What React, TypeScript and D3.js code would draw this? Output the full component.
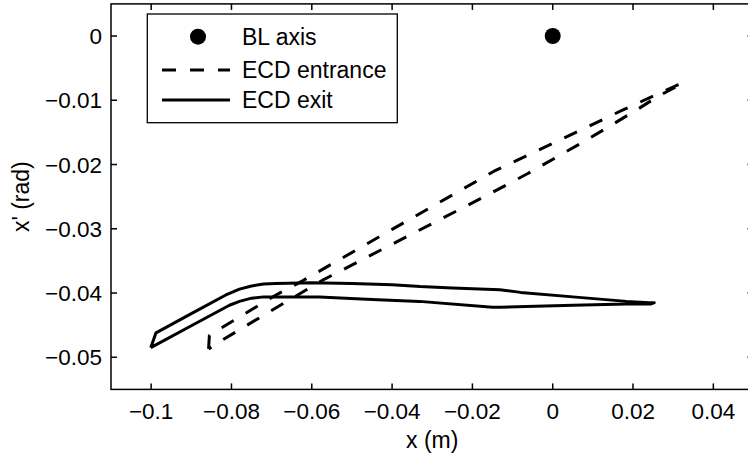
import React, { useRef, useEffect } from 'react';
import * as d3 from 'd3';

const width = 748;
const height = 455;

// ECD exit loop (solid): upper edge left->right, then lower edge back
const exitX = [-0.1001, -0.0988, -0.0900, -0.0814, -0.0780, -0.0750, -0.0720, -0.0690, -0.0600, -0.0500, -0.0400,
  -0.0330, -0.0250, -0.0132, -0.0080, 0.0050, 0.0184, 0.0240, 0.0253,
  0.0245, 0.0184, 0.0051, -0.0132, -0.0150, -0.0332, -0.0450, -0.0581, -0.0680, -0.0720, -0.0750, -0.0780, -0.0805, -0.0900, -0.1001];
const exitY = [-0.0485, -0.0462, -0.0432, -0.0403, -0.0394, -0.0389, -0.0386, -0.0385, -0.0384, -0.0385, -0.0387,
  -0.0390, -0.0392, -0.0395, -0.0399, -0.0406, -0.0413, -0.0415, -0.0415,
  -0.0417, -0.0417, -0.0419, -0.0422, -0.0422, -0.0413, -0.0410, -0.0406, -0.0406, -0.0406, -0.0408, -0.0413, -0.0419, -0.0451, -0.0485];

// ECD entrance loop (dashed)
const entX = [-0.0857, -0.0855, -0.0835, -0.0689, -0.0623, -0.0400, -0.0145, 0.0000, 0.0175, 0.0308, 0.0325,
  0.0262, 0.0209, 0.0084, -0.0062, -0.0170, -0.0400, -0.0573, -0.0697, -0.0822, -0.0857];
const entY = [-0.0487, -0.0466, -0.0458, -0.0403, -0.0381, -0.0301, -0.0210, -0.0167, -0.0115, -0.0077, -0.0073,
  -0.0094, -0.0115, -0.0162, -0.0214, -0.0250, -0.0324, -0.0380, -0.0426, -0.0473, -0.0487];

const blX = [0];
const blY = [0];

const xTicks = [-0.1, -0.08, -0.06, -0.04, -0.02, 0, 0.02, 0.04];
const yTicks = [0, -0.01, -0.02, -0.03, -0.04, -0.05];
const legendLabels = ['BL axis', 'ECD entrance', 'ECD exit'];

const font = '"Liberation Sans", Arial, Helvetica, sans-serif';

export default function App() {
  const svgRef = useRef(null);
  useEffect(() => {
    const svg = d3.select(svgRef.current);
    svg.selectAll('*').remove();

    const x = d3.scaleLinear().domain([-0.11, 0.05]).range([111, 753.5]);
    const y = d3.scaleLinear().domain([-0.055, 0.005]).range([389.4, 3.9]);
    const fmt = d3.format('~g');
    const [x0, x1] = x.range();
    const [y0, y1] = y.range();
    const tick = 6;

    // curves
    const line = d3.line<number>().x((d, i) => x(d)).y((d, i) => 0);
    const path = (xs: number[], ys: number[]) =>
      d3.line<number>().x(i => x(xs[i])).y(i => y(ys[i]))(d3.range(xs.length));

    svg.append('path')
      .attr('d', path(entX, entY))
      .attr('fill', 'none')
      .attr('stroke', 'black')
      .attr('stroke-width', 3)
      .attr('stroke-dasharray', '14,14')
      .attr('stroke-linejoin', 'round');

    svg.append('path')
      .attr('d', path(exitX, exitY))
      .attr('fill', 'none')
      .attr('stroke', 'black')
      .attr('stroke-width', 3)
      .attr('stroke-linejoin', 'round');

    svg.selectAll('circle.bl')
      .data(blX)
      .join('circle')
      .attr('class', 'bl')
      .attr('cx', d => x(d))
      .attr('cy', (d, i) => y(blY[i]))
      .attr('r', 8)
      .attr('fill', 'black');

    // axes box
    const ax = svg.append('g').attr('stroke', 'black').attr('stroke-width', 1.5);
    ax.append('rect')
      .attr('x', x0).attr('y', y1)
      .attr('width', x1 - x0).attr('height', y0 - y1)
      .attr('fill', 'none');
    xTicks.forEach(t => {
      ax.append('line').attr('x1', x(t)).attr('x2', x(t)).attr('y1', y0).attr('y2', y0 - tick);
      ax.append('line').attr('x1', x(t)).attr('x2', x(t)).attr('y1', y1).attr('y2', y1 + tick);
    });
    yTicks.forEach(t => {
      ax.append('line').attr('x1', x0).attr('x2', x0 + tick).attr('y1', y(t)).attr('y2', y(t));
      ax.append('line').attr('x1', x1).attr('x2', x1 - tick).attr('y1', y(t)).attr('y2', y(t));
    });

    const labels = svg.append('g').attr('font-family', font).attr('font-size', 22.5).attr('fill', 'black');
    labels.selectAll('text.xt')
      .data(xTicks)
      .join('text')
      .attr('class', 'xt')
      .attr('x', d => x(d))
      .attr('y', 419)
      .attr('text-anchor', 'middle')
      .text(d => fmt(d));
    labels.selectAll('text.yt')
      .data(yTicks)
      .join('text')
      .attr('class', 'yt')
      .attr('x', 102)
      .attr('y', d => y(d) + 8.2)
      .attr('text-anchor', 'end')
      .text(d => fmt(d));

    svg.append('text')
      .attr('font-family', font).attr('font-size', 23)
      .attr('x', (x0 + x1) / 2).attr('y', 448)
      .attr('text-anchor', 'middle')
      .text('x (m)');
    svg.append('text')
      .attr('font-family', font).attr('font-size', 23)
      .attr('transform', `translate(28.5,${(y0 + y1) / 2}) rotate(-90)`)
      .attr('text-anchor', 'middle')
      .text("x' (rad)");

    // legend
    const lg = svg.append('g');
    lg.append('rect')
      .attr('x', 147.3).attr('y', 14)
      .attr('width', 250).attr('height', 108.7)
      .attr('fill', 'white').attr('stroke', 'black').attr('stroke-width', 1.3);
    const rows = [36.7, 70, 100];
    lg.append('circle').attr('cx', 198).attr('cy', rows[0]).attr('r', 8).attr('fill', 'black');
    lg.append('line')
      .attr('x1', 162).attr('x2', 230).attr('y1', rows[1]).attr('y2', rows[1])
      .attr('stroke', 'black').attr('stroke-width', 3).attr('stroke-dasharray', '14,14');
    lg.append('line')
      .attr('x1', 162).attr('x2', 230).attr('y1', rows[2]).attr('y2', rows[2])
      .attr('stroke', 'black').attr('stroke-width', 3);
    lg.selectAll('text')
      .data(legendLabels)
      .join('text')
      .attr('font-family', font).attr('font-size', 23)
      .attr('x', 242)
      .attr('y', (d, i) => rows[i] + 8.3)
      .text(d => d);
  }, []);
  return (
    <svg ref={svgRef} width={width} height={height}
      style={{ position: 'absolute', left: 0, top: 0, background: 'white' }}></svg>
  );
}
